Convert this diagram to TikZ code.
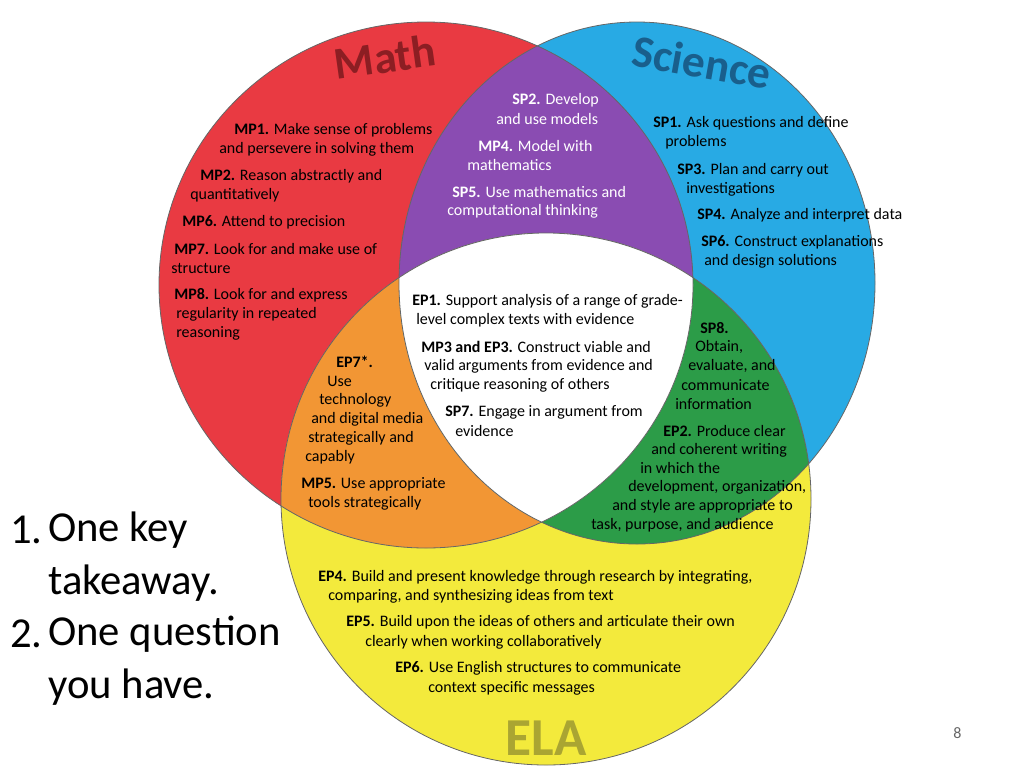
\documentclass[tikz,border=0pt]{standalone}
\usepackage{fontspec}
\setmainfont{Carlito}
\newcommand{\pathM}{(426,285) ellipse [x radius=267, y radius=263]}
\newcommand{\pathS}{(637,283) ellipse [x radius=238, y radius=261]}
\newcommand{\pathE}{(546,499) ellipse [x radius=265, y radius=266]}
\definecolor{mathred}{RGB}{233,58,66}
\definecolor{sciblue}{RGB}{40,170,228}
\definecolor{elayellow}{RGB}{243,234,60}
\definecolor{mixpurple}{RGB}{138,76,178}
\definecolor{mixorange}{RGB}{242,150,52}
\definecolor{mixgreen}{RGB}{44,156,72}
\tikzset{
  lbl/.style={anchor=west, inner sep=0pt, font=\fontsize{12}{14}\selectfont},
  wlbl/.style={lbl, text=white},
  title/.style={font=\fontsize{34}{40}\selectfont\bfseries},
  big/.style={anchor=west, inner sep=0pt, font=\fontsize{32}{38}\selectfont}
}
\begin{document}
\begin{tikzpicture}[x=0.75pt,y=-0.75pt]
    \useasboundingbox (0,0) rectangle (1024,768);

    % Circles
    \fill[mathred] \pathM;
    \fill[sciblue] \pathS;
    \fill[elayellow] \pathE;

    % Overlaps
    \begin{scope}
        \clip \pathM;
        \fill[mixpurple] \pathS;
        \fill[mixorange] \pathE;
    \end{scope}
    \begin{scope}
        \clip \pathS;
        \fill[mixgreen] \pathE;
        \clip \pathM;
        \fill[white] \pathE;
    \end{scope}

    % Outlines
    \draw[black!60, line width=0.6pt] \pathM;
    \draw[black!60, line width=0.6pt] \pathS;
    \draw[black!60, line width=0.6pt] \pathE;

    % Titles
    \node[title, text={rgb,255:red,140;green,30;blue,35}, rotate=8, inner sep=0pt] (tmath) at (385,57) {Math};
    \node[title, text={rgb,255:red,25;green,95;blue,140}, rotate=-10, inner sep=0pt] (tsci) at (702,62) {Science};
    \node[title, text={rgb,255:red,170;green,165;blue,50}, font=\fontsize{40}{46}\selectfont\bfseries] (tela) at (546,738) {ELA};

    % Math
    \node[lbl] (mp1a) at (234,130) {\textbf{MP1.} Make sense of problems};
    \node[lbl] (mp1b) at (219,149) {and persevere in solving them};
    \node[lbl] (mp2a) at (200,176) {\textbf{MP2.} Reason abstractly and};
    \node[lbl] (mp2b) at (190,195) {quantitatively};
    \node[lbl] (mp6) at (182,222) {\textbf{MP6.} Attend to precision};
    \node[lbl] (mp7a) at (174,249) {\textbf{MP7.} Look for and make use of};
    \node[lbl] (mp7b) at (171,268) {structure};
    \node[lbl] (mp8a) at (174,295) {\textbf{MP8.} Look for and express};
    \node[lbl] (mp8b) at (176,314) {regularity in repeated};
    \node[lbl] (mp8c) at (176,333) {reasoning};

    % Math + Science
    \node[wlbl] (sp2a) at (512,100) {\textbf{SP2.} Develop};
    \node[wlbl] (sp2b) at (496,119) {and use models};
    \node[wlbl] (mp4a) at (478,146) {\textbf{MP4.} Model with};
    \node[wlbl] (mp4b) at (467,165) {mathematics};
    \node[wlbl] (sp5a) at (452,192) {\textbf{SP5.} Use mathematics and};
    \node[wlbl] (sp5b) at (447,211) {computational thinking};

    % Science
    \node[lbl] (sp1a) at (653,123) {\textbf{SP1.} Ask questions and define};
    \node[lbl] (sp1b) at (665,142) {problems};
    \node[lbl] (sp3a) at (677,170) {\textbf{SP3.} Plan and carry out};
    \node[lbl] (sp3b) at (686,189) {investigations};
    \node[lbl] (sp4) at (697,215) {\textbf{SP4.} Analyze and interpret data};
    \node[lbl] (sp6a) at (701,242) {\textbf{SP6.} Construct explanations};
    \node[lbl] (sp6b) at (704,261) {and design solutions};

    % Center
    \node[lbl] (ep1a) at (412,301) {\textbf{EP1.} Support analysis of a range of grade-};
    \node[lbl] (ep1b) at (416,320) {level complex texts with evidence};
    \node[lbl] (mp3a) at (421,347) {\textbf{MP3 and EP3.} Construct viable and};
    \node[lbl] (mp3b) at (424,366) {valid arguments from evidence and};
    \node[lbl] (mp3c) at (430,385) {critique reasoning of others};
    \node[lbl] (sp7a) at (445,412) {\textbf{SP7.} Engage in argument from};
    \node[lbl] (sp7b) at (455,431) {evidence};

    % Math + ELA
    \node[lbl] (ep7a) at (336,362) {\textbf{EP7*.}};
    \node[lbl] (ep7b) at (327,381) {Use};
    \node[lbl] (ep7c) at (319,400) {technology};
    \node[lbl] (ep7d) at (311,419) {and digital media};
    \node[lbl] (ep7e) at (308,438) {strategically and};
    \node[lbl] (ep7f) at (305,457) {capably};
    \node[lbl] (mp5a) at (301,484) {\textbf{MP5.} Use appropriate};
    \node[lbl] (mp5b) at (308,503) {tools strategically};

    % Science + ELA
    \node[lbl] (sp8a) at (700,328) {\textbf{SP8.}};
    \node[lbl] (sp8b) at (695,347) {Obtain,};
    \node[lbl] (sp8c) at (688,366) {evaluate, and};
    \node[lbl] (sp8d) at (681,385) {communicate};
    \node[lbl] (sp8e) at (675,404) {information};
    \node[lbl] (ep2a) at (663,431) {\textbf{EP2.} Produce clear};
    \node[lbl] (ep2b) at (651,450) {and coherent writing};
    \node[lbl] (ep2c) at (640,468) {in which the};
    \node[lbl] (ep2d) at (628,487) {development, organization,};
    \node[lbl] (ep2e) at (612,506) {and style are appropriate to};
    \node[lbl] (ep2f) at (591,525) {task, purpose, and audience};

    % ELA
    \node[lbl] (ep4a) at (318,577) {\textbf{EP4.} Build and present knowledge through research by integrating,};
    \node[lbl] (ep4b) at (328,596) {comparing, and synthesizing ideas from text};
    \node[lbl] (ep5a) at (346,622) {\textbf{EP5.} Build upon the ideas of others and articulate their own};
    \node[lbl] (ep5b) at (365,642) {clearly when working collaboratively};
    \node[lbl] (ep6a) at (395,668) {\textbf{EP6.} Use English structures to communicate};
    \node[lbl] (ep6b) at (428,688) {context specific messages};

    % Prompts
    \node[big] (n1) at (10,530) {1.};
    \node[big] (q1a) at (48,530) {One key};
    \node[big] (q1b) at (48,583) {takeaway.};
    \node[big] (n2) at (10,634) {2.};
    \node[big] (q2a) at (48,634) {One question};
    \node[big] (q2b) at (48,687) {you have.};
    \node[lbl, text=black!60] (pg) at (953,733) {8};

\end{tikzpicture}
\end{document}
